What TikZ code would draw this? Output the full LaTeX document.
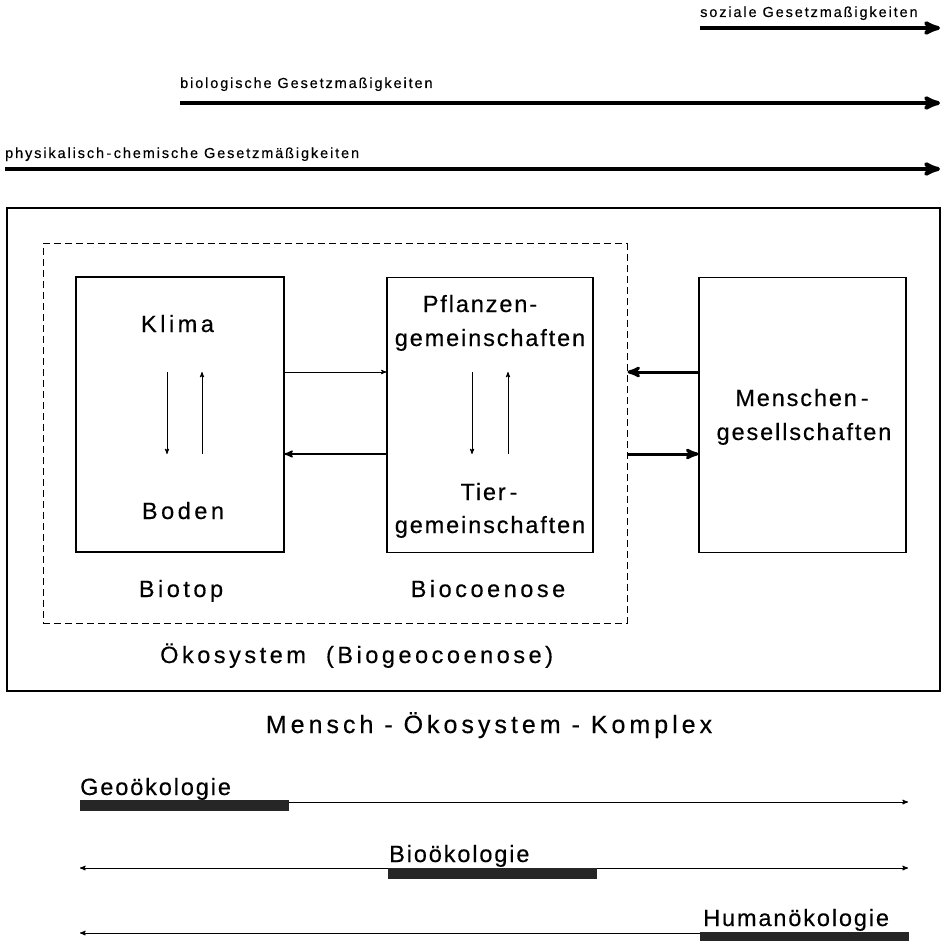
\documentclass[tikz,border=0pt]{standalone}
\usepackage{fontspec}
\setmainfont{Liberation Sans}
\newfontfamily\bigfont[LetterSpace=8,FakeBold=0.4]{Liberation Sans}
\newfontfamily\spacedfont[LetterSpace=15,FakeBold=0.4]{Liberation Sans}
\newfontfamily\widefont[LetterSpace=16,FakeBold=0.4]{Liberation Sans}
\newfontfamily\lawfont[LetterSpace=13,FakeBold=0.3]{Liberation Sans}
\usetikzlibrary{arrows,positioning}
\tikzset{box/.style={rectangle,draw,line width=1.2pt,minimum width=207pt,minimum height=275pt,inner sep=0pt},
         caption/.style={rectangle,inner sep=0pt,anchor=base,font=\bigfont\fontsize{23.5}{34}\selectfont},
         spaced/.style={caption,font=\spacedfont\fontsize{23.5}{34}\selectfont},
         law text/.style={rectangle,inner sep=0pt,anchor=base west,font=\lawfont\fontsize{14.5}{16}\selectfont},
         law arrow/.style={->,line width=4pt},
         thin arrow/.style={->,line width=0.9pt},
         thick arrow/.style={->,line width=3pt},
         field bar/.style={rectangle,fill=black!85,draw=none,inner sep=0pt,minimum height=11pt,minimum width=209pt,anchor=north west},
         field line/.style={line width=1pt}
}
\begin{document}
\begin{tikzpicture}[>=stealth', x=1pt, y=-1pt]
\useasboundingbox (0,0) rectangle (944,941);

% Gesetzmaessigkeiten
\node[law text] (soz) at (700,17) {soziale Gesetzmaßigkeiten};
\node[law text] (bio) at (180,88) {biologische Gesetzmaßigkeiten};
\node[law text] (phy) at (5,158) {physikalisch\,-\,chemische Gesetzmäßigkeiten};
\coordinate (sozend) at (940,28);
\coordinate (bioend) at (940,103);
\coordinate (phyend) at (940,169);
\draw[law arrow] (soz.west |- sozend) -- (sozend);
\draw[law arrow] (bio.west |- bioend) -- (bioend);
\draw[law arrow] (phy.west |- phyend) -- (phyend);

% Rahmen
\node[rectangle,draw,line width=1.2pt,minimum width=933pt,minimum height=483pt,inner sep=0pt] (komplex) at (473.5,449.5) {};
\node[rectangle,draw,dashed,dash pattern=on 7pt off 4pt,line width=1pt,minimum width=584pt,minimum height=379pt,inner sep=0pt] (oeko) at (335,433.5) {};

\node[box,minimum width=208pt] (biotop) at (180,414.5) {};
\node[box,minimum width=206pt] (biocoenose) at (490,415) {};
\node[box] (menschen) at (802.5,415) {};

\node[spaced] (klima) at (177.5,332) {Klima};
\node[spaced] (boden) at (183,519) {Boden};
\node[caption] (pflanzen) at (480,312) {Pflanzen-};
\node[caption] (pgem) at (490,346) {gemeinschaften};
\node[caption] (tier) at (489,500) {Tier\,-};
\node[caption] (tgem) at (490,533) {gemeinschaften};
\node[caption] (mensch) at (802,406) {Menschen\,-};
\node[caption] (mges) at (804,440) {gesellschaften};
\node[spaced] (biotoplabel) at (181,597) {Biotop};
\node[spaced] (biocoenoselabel) at (488,597) {Biocoenose};
\node[spaced,anchor=base west] (oekolabel) at (160,663) {Ökosystem~~(Biogeocoenose)};

% Wechselwirkungen
\coordinate (k1) at (167,372);
\coordinate (k2) at (167,454);
\coordinate (b1) at (202,372);
\coordinate (b2) at (202,454);
\coordinate (p1) at (472,372);
\coordinate (p2) at (472,454);
\coordinate (t1) at (508,372);
\coordinate (t2) at (508,454);
\draw[thin arrow] (k1) -- (k2);
\draw[thin arrow] (b2) -- (b1);
\draw[thin arrow] (p1) -- (p2);
\draw[thin arrow] (t2) -- (t1);
\draw[thin arrow] (biotop.east |- k1) -- (biocoenose.west |- k1);
\draw[->,line width=1.8pt] (biocoenose.west |- k2) -- (biotop.east |- k2);
\draw[thick arrow] (menschen.west |- k1) -- (oeko.east |- k1);
\draw[thick arrow] (oeko.east |- k2) -- (menschen.west |- k2);

\node[caption,font=\widefont\fontsize{25}{34}\selectfont] (mok) at (489,733) {Mensch - Ökosystem - Komplex};

% Oekologien
\node[caption,anchor=base west] (geo) at (80,795) {Geoökologie};
\node[caption,anchor=base west] (bioek) at (389,862) {Bioökologie};
\node[caption,anchor=base west] (human) at (703,926) {Humanökologie};
\coordinate (g1) at (80,802);   \coordinate (g2) at (908,802);
\coordinate (o1) at (80,868);   \coordinate (o2) at (908,868);
\coordinate (h1) at (80,933);   \coordinate (h2) at (908,933);
\draw[field line,->] (g1) -- (g2);
\draw[field line,<->] (o1) -- (o2);
\draw[field line,<-] (h1) -- (h2);
\node[field bar] (geobar) at (80,800) {};
\node[field bar] (biobar) at (388,868) {};
\node[field bar] (humanbar) at (700,932) {};
\end{tikzpicture}
\end{document}
